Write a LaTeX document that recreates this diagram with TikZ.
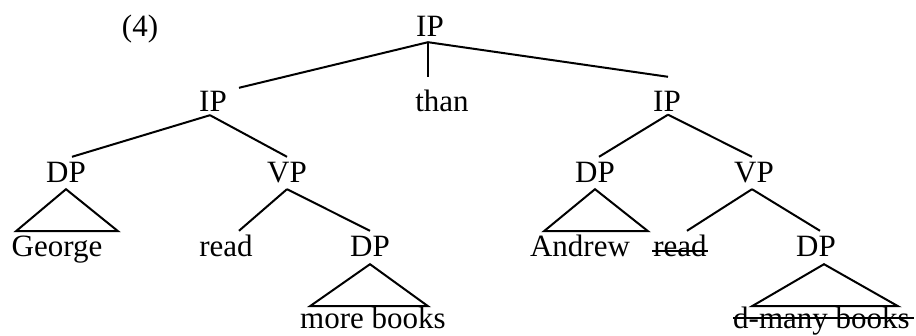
\documentclass[tikz,border=0pt]{standalone}
\usepackage{fontspec}
\setmainfont{Liberation Serif}
\begin{document}
\begin{tikzpicture}[x=1pt,y=-1pt,
  lbl/.style={inner sep=0pt, anchor=base, text height=20.5pt, text depth=0pt,
              font=\fontsize{31}{37}\selectfont},
  branch/.style={line width=2pt, line join=miter},
  struck/.style={line width=1.5pt}]
\useasboundingbox (0,0) rectangle (916,336);

% labels
\node[lbl] (ex)    at (140,37)  {(4)};
\node[lbl] (ip)    at (430,37)  {IP};
\node[lbl] (ipl)   at (213,112) {IP};
\node[lbl] (than)  at (442,112) {than};
\node[lbl] (ipr)   at (667,112) {IP};
\node[lbl] (dpa)   at (66,183)  {DP};
\node[lbl] (vpa)   at (287,183) {VP};
\node[lbl] (dpc)   at (595,183) {DP};
\node[lbl] (vpb)   at (754,183) {VP};
\node[lbl] (george) at (57,257) {George};
\node[lbl] (readl) at (226,257) {read};
\node[lbl] (dpb)   at (370,257) {DP};
\node[lbl] (andrew) at (580,257) {Andrew};
\node[lbl] (readr) at (680,257) {read};
\node[lbl] (dpd)   at (816,257) {DP};
\node[lbl] (more)  at (373,329) {more books};
\node[lbl, anchor=base west] (dmany) at (733,329) {d-many books};

% top clause
\draw[branch] ([shift={(-2,5)}]ip.south) -- ([shift={(26,-3.5)}]ipl.north);
\draw[branch] ([shift={(-2,5)}]ip.south) -- ([shift={(-14,-14.5)}]than.north);
\draw[branch] ([shift={(-2,5)}]ip.south) -- ([shift={(1,-14.5)}]ipr.north);

% first conjunct
\draw[branch] ([shift={(-3,3)}]ipl.south) -- ([shift={(6,-5.5)}]dpa.north);
\draw[branch] ([shift={(-3,3)}]ipl.south) -- ([shift={(0,-5.5)}]vpa.north);
\draw[branch] ([shift={(0,6)}]dpa.south) -- +(-50,42) -- +(52,42) -- cycle;
\draw[branch] ([shift={(0,6)}]vpa.south) -- ([shift={(13,-5.5)}]readl.north);
\draw[branch] ([shift={(0,6)}]vpa.south) -- ([shift={(0,-5.5)}]dpb.north);
\draw[branch] ([shift={(0,7)}]dpb.south) -- +(-60,42) -- +(58,42) -- cycle;

% second conjunct
\draw[branch] ([shift={(1,2.5)}]ipr.south) -- ([shift={(4,-5.5)}]dpc.north);
\draw[branch] ([shift={(1,2.5)}]ipr.south) -- ([shift={(-2,-5.5)}]vpb.north);
\draw[branch] ([shift={(0,6)}]dpc.south) -- +(-51,42) -- +(53,42) -- cycle;
\draw[branch] ([shift={(-2,6)}]vpb.south) -- ([shift={(7,-5.5)}]readr.north);
\draw[branch] ([shift={(-2,6)}]vpb.south) -- ([shift={(4,-5.5)}]dpd.north);
\draw[branch] ([shift={(8,7)}]dpd.south) -- +(-72,42) -- +(74,42) -- cycle;

% deleted material
\draw[struck] ([shift={(-1,-6)}]readr.base west) -- ([shift={(1,-6)}]readr.base east);
\draw[struck] ([shift={(0,-11)}]dmany.base west) -- ([shift={(4,-11)}]dmany.base east);
\end{tikzpicture}
\end{document}
